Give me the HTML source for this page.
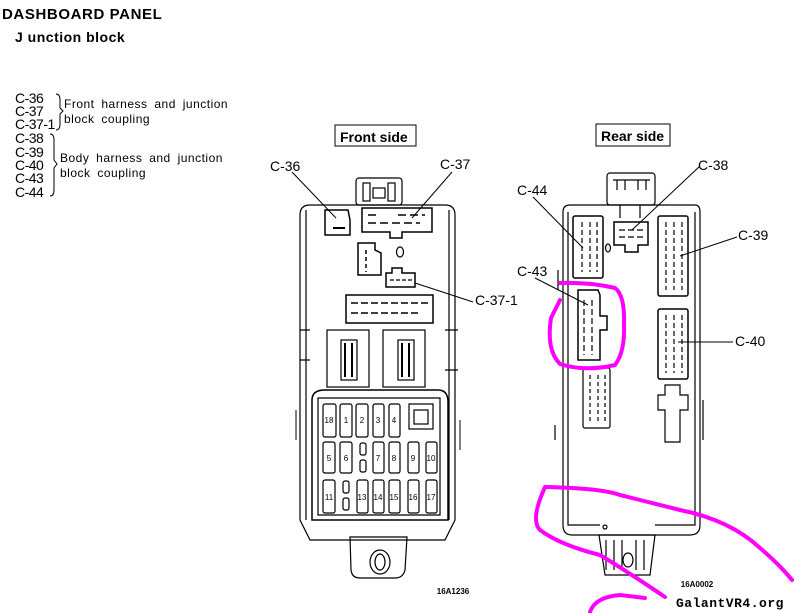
<!DOCTYPE html>
<html><head><meta charset="utf-8"><style>
body{margin:0;background:#fff;width:794px;height:613px;overflow:hidden}
svg{display:block}
</style></head><body>
<svg width="794" height="613" viewBox="0 0 794 613" xmlns="http://www.w3.org/2000/svg" font-family="Liberation Sans, sans-serif">
<rect width="794" height="613" fill="#fff"/>
<text x="2" y="19" font-size="15" font-weight="bold" letter-spacing="0.6">DASHBOARD  PANEL</text>
<text x="15" y="42" font-size="14" font-weight="bold" letter-spacing="0.5">J unction  block</text>
<g font-size="14" letter-spacing="-0.5">
<text x="15" y="103">C-36</text><text x="15" y="116">C-37</text><text x="15" y="129">C-37-1</text>
<text x="15" y="143">C-38</text><text x="15" y="157">C-39</text><text x="15" y="170">C-40</text><text x="15" y="183">C-43</text><text x="15" y="197">C-44</text>
</g>
<g font-size="12" letter-spacing="0.5" word-spacing="3">
<text x="64" y="108">Front harness and junction</text><text x="64" y="123">block  coupling</text>
<text x="60" y="162">Body harness and junction</text><text x="60" y="177">block  coupling</text>
</g>
<g fill="none" stroke="#000" stroke-width="1">
<path d="M56 94 Q60 94 60 100 L60 108 L63 111 L60 114 L60 124 Q60 130 56 130"/>
<path d="M50 134 Q54 134 54 140 L54 160 L57 164 L54 168 L54 190 Q54 196 50 196"/>
</g>
<!-- Front side -->
<rect x="335" y="125" width="81" height="21" fill="#fff" stroke="#000"/>
<text x="340" y="142" font-size="14" font-weight="bold">Front  side</text>
<text x="270" y="171" font-size="14">C-36</text>
<text x="440" y="169" font-size="14">C-37</text>
<text x="475" y="305" font-size="14">C-37-1</text>
<g fill="none" stroke="#000" stroke-width="1.2">
<path d="M310 205 L445 205 Q455 205 455 215 L455 520 L445 540 L310 540 L300 520 L300 215 Q300 205 310 205 Z"/>
<path d="M306 210 L306 520 M449 210 L449 520"/>
<rect x="356" y="178" width="46" height="27" rx="3"/>
<rect x="363" y="183" width="7" height="18"/><rect x="388" y="183" width="7" height="18"/><rect x="373" y="188" width="12" height="10"/>
<path d="M325 210 L348 210 L350 220 L350 235 L325 235 Z" stroke-width="1.5"/>
<path d="M333 228 L345 228" stroke-width="2"/>
<path d="M362 208 L432 208 L432 232 L402 232 L402 238 L390 238 L390 232 L362 232 Z" stroke-width="1.5"/>
<path d="M368 215 L378 215 M398 215 L425 215 M368 223 L420 223" stroke-width="1.5" stroke-dasharray="8 4"/>
<path d="M358 243 L375 243 L375 250 L381 253 L381 275 L358 275 Z" stroke-width="1.5"/>
<path d="M366 250 L366 272" stroke-dasharray="4 3" stroke-width="1.5"/>
<ellipse cx="400" cy="252" rx="3.5" ry="5"/>
<path d="M386 273 L392 273 L392 268 L402 268 L402 273 L415 273 L415 287 L386 287 Z" stroke-width="1.5"/>
<path d="M390 280 L412 280" stroke-dasharray="4 2"/>
<rect x="346" y="295" width="87" height="28" stroke-width="1.5"/>
<path d="M351 303 L428 303 M351 313 L420 313" stroke-dasharray="7 3" stroke-width="1.5"/>
<rect x="327" y="330" width="42" height="57"/><rect x="383" y="330" width="42" height="57"/>
<rect x="341" y="340" width="16" height="40"/><rect x="398" y="340" width="16" height="40"/>
<path d="M345 343 L345 377 M352 343 L352 377 M402 343 L402 377 M409 343 L409 377" stroke-width="2"/>
<path d="M310 330 L300 330 M310 360 L300 360 M445 330 L458 330 M445 370 L458 370"/>
<path d="M312 400 Q312 390 325 390 L438 390 Q448 390 448 402 L448 520 L312 520 Z" stroke-width="1.5"/>
<path d="M318 398 L440 398 L440 515 L318 515 Z"/>
<path d="M350 537 L407 537 L405 570 Q403 578 395 578 L360 578 Q352 578 351 570 Z"/>
<ellipse cx="380" cy="562" rx="10" ry="12"/><ellipse cx="380" cy="562" rx="5" ry="8"/>
<path d="M296 410 L296 440 M460 420 L460 450" stroke-width="1"/>
</g>
<g fill="none" stroke="#000" stroke-width="1.2">
<rect x="323" y="404" width="13" height="33" rx="2"/><rect x="340" y="404" width="12" height="33" rx="2"/><rect x="356" y="404" width="12" height="33" rx="2"/><rect x="373" y="404" width="11" height="33" rx="2"/><rect x="389" y="404" width="11" height="33" rx="2"/>
<rect x="409" y="404" width="24" height="25"/><rect x="414" y="410" width="14" height="14"/>
<rect x="323" y="442" width="12" height="31" rx="2"/><rect x="340" y="442" width="12" height="31" rx="2"/><rect x="360" y="443" width="6" height="12" rx="2"/><rect x="360" y="460" width="6" height="12" rx="2"/><rect x="373" y="442" width="11" height="31" rx="2"/><rect x="389" y="442" width="11" height="31" rx="2"/><rect x="408" y="442" width="11" height="31" rx="2"/><rect x="426" y="442" width="11" height="31" rx="2"/>
<rect x="323" y="480" width="12" height="33" rx="2"/><rect x="343" y="481" width="6" height="12" rx="2"/><rect x="343" y="498" width="6" height="12" rx="2"/><rect x="357" y="480" width="11" height="33" rx="2"/><rect x="373" y="480" width="11" height="33" rx="2"/><rect x="389" y="480" width="11" height="33" rx="2"/><rect x="408" y="480" width="11" height="33" rx="2"/><rect x="426" y="480" width="11" height="33" rx="2"/>
</g>
<g font-size="8" text-anchor="middle">
<text x="329" y="423">18</text><text x="346" y="423">1</text><text x="362" y="423">2</text><text x="378" y="423">3</text><text x="394" y="423">4</text>
<text x="329" y="461">5</text><text x="346" y="461">6</text><text x="378" y="461">7</text><text x="394" y="461">8</text><text x="413" y="461">9</text><text x="431" y="461">10</text>
<text x="329" y="500">11</text><text x="362" y="500">13</text><text x="378" y="500">14</text><text x="394" y="500">15</text><text x="413" y="500">16</text><text x="431" y="500">17</text>
</g>
<g stroke="#000" stroke-width="1">
<line x1="292" y1="172" x2="336" y2="218"/><line x1="452" y1="172" x2="412" y2="218"/><line x1="473" y1="302" x2="415" y2="283"/>
</g>
<text x="453" y="594" font-size="8" font-weight="bold" text-anchor="middle">16A1236</text>
<!-- Rear side -->
<rect x="596" y="124" width="74" height="22" fill="#fff" stroke="#000"/>
<text x="601" y="141" font-size="14" font-weight="bold">Rear  side</text>
<text x="517" y="195" font-size="14">C-44</text>
<text x="698" y="170" font-size="14">C-38</text>
<text x="738" y="240" font-size="14">C-39</text>
<text x="517" y="276" font-size="14">C-43</text>
<text x="735" y="346" font-size="14">C-40</text>
<g fill="none" stroke="#000" stroke-width="1.2">
<path d="M570 205 L695 205 Q700 205 700 212 L700 525 Q700 535 690 535 L572 535 Q563 535 563 525 L563 212 Q563 205 570 205 Z"/>
<path d="M568 212 L568 525 L600 525 M695 212 L695 525 L655 525"/>
<rect x="607" y="173" width="48" height="32" rx="3"/>
<path d="M613 180 L650 180 M617 180 L617 190 M625 180 L625 190 M638 180 L638 190 M646 180 L646 190 M620 205 L620 218 M640 205 L640 218"/>
<rect x="573" y="216" width="30" height="62" rx="2" stroke-width="1.5"/>
<path d="M582 222 L582 272 M590 222 L590 272 M597 222 L597 272" stroke-dasharray="5 3"/>
<path d="M614 222 L648 222 L648 245 L638 245 L638 252 L625 252 L625 245 L614 245 Z" stroke-width="1.5"/>
<path d="M619 230 L643 230 M619 237 L643 237" stroke-dasharray="6 3"/>
<ellipse cx="608" cy="248" rx="2.5" ry="4"/>
<rect x="658" y="216" width="30" height="80" rx="2" stroke-width="1.5"/>
<path d="M666 222 L666 290 M674 222 L674 290 M682 222 L682 290" stroke-dasharray="5 3"/>
<path d="M578 290 L598 290 L600 295 L600 316 L607 316 L607 330 L600 330 L600 360 L578 360 Z" stroke-width="1.5"/>
<path d="M584 300 L584 355 M592 300 L592 355" stroke-dasharray="6 3"/>
<rect x="658" y="309" width="30" height="70" rx="2" stroke-width="1.5"/>
<path d="M666 315 L666 373 M674 315 L674 373 M682 315 L682 373" stroke-dasharray="5 3"/>
<rect x="583" y="368" width="27" height="60" rx="2"/>
<path d="M590 375 L590 422 M598 375 L598 422 M605 375 L605 422" stroke-dasharray="4 3"/>
<path d="M665 385 L680 385 L680 395 L688 395 L688 410 L680 410 L680 442 L665 442 L665 410 L658 410 L658 395 L665 395 Z"/>
<path d="M599 535 L655 535 L650 575 L605 575 Z"/>
<path d="M606 540 L606 570 M614 540 L614 570 M622 540 L622 570 M636 540 L636 570 M644 540 L644 570"/>
<ellipse cx="628" cy="560" rx="5" ry="7"/>
<circle cx="605" cy="527" r="2"/>
<path d="M558 270 L558 290 M703 400 L703 440 M555 425 L555 440"/>
</g>
<g stroke="#000" stroke-width="1">
<line x1="533" y1="197" x2="583" y2="248"/><line x1="700" y1="166" x2="632" y2="230"/><line x1="737" y1="237" x2="680" y2="256"/><line x1="535" y1="278" x2="588" y2="305"/><line x1="733" y1="342" x2="678" y2="342"/>
</g>
<text x="697" y="587" font-size="8" font-weight="bold" text-anchor="middle">16A0002</text>
<!-- magenta -->
<g fill="none" stroke="#f0f" stroke-width="4" stroke-linecap="round" stroke-linejoin="round">
<path d="M560 283 Q590 282 615 288 Q625 295 624 325 Q625 352 615 365 Q585 372 560 364 Q546 350 551 318 L560 300"/>
<path d="M545 487 Q600 488 620 495 Q660 505 680 510 Q730 520 760 548 Q780 565 792 580"/>
<path d="M545 487 Q530 520 540 530 Q560 545 600 555 Q625 570 665 597"/>
<path d="M590 612 Q595 597 620 595 L645 598"/>
</g>
<text x="676" y="607" font-size="13" font-family="Liberation Mono, monospace" font-weight="bold" letter-spacing="0.5">GalantVR4.org</text>
</svg>
</body></html>
